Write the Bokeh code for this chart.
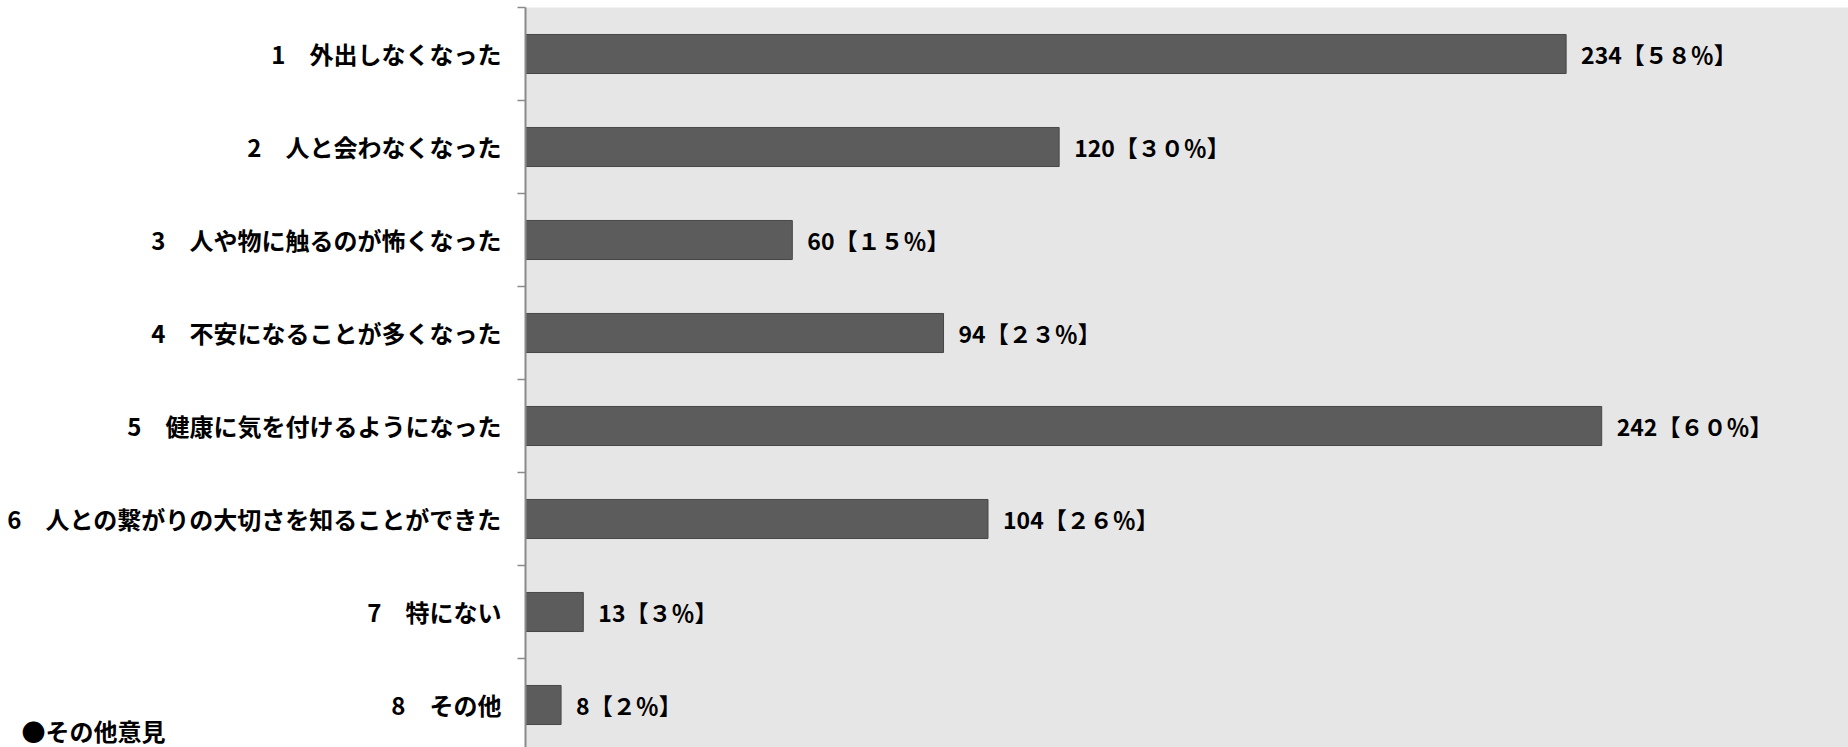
from bokeh.plotting import figure
from bokeh.models import ColumnDataSource, Range1d, FixedTicker
from bokeh.core.properties import value
from bokeh.embed import file_html
from bokeh.resources import INLINE

categories = [
    "1　外出しなくなった",
    "2　人と会わなくなった",
    "3　人や物に触るのが怖くなった",
    "4　不安になることが多くなった",
    "5　健康に気を付けるようになった",
    "6　人との繋がりの大切さを知ることができた",
    "7　特にない",
    "8　その他",
]
counts = [234, 120, 60, 94, 242, 104, 13, 8]
percents = [58, 30, 15, 23, 60, 26, 3, 2]
heading = "●その他意見"

FW = str.maketrans("0123456789", "０１２３４５６７８９")
labels = [f"{c}【{str(p).translate(FW)}％】" for c, p in zip(counts, percents)]
centers = [i + 0.5 for i in range(len(categories))]

src = ColumnDataSource(dict(y=centers, right=counts, lab=labels))

FONT = "Noto Sans CJK JP"
Y_END = 7.957

p = figure(
    width=1848, height=747,
    output_backend="svg", toolbar_location=None,
    x_range=Range1d(0, 297.5), y_range=Range1d(Y_END, 0),
    x_axis_location=None, y_axis_location="left",
    min_border_left=525, min_border_right=0, min_border_top=7, min_border_bottom=0,
)
p.background_fill_color = "#e6e6e6"
p.border_fill_color = "white"
p.outline_line_color = None
p.grid.visible = False

p.hbar(y="y", right="right", left=0, height=0.42, source=src,
       fill_color="#5c5c5c", line_color="#474747", line_width=1)

p.text(x="right", y="y", text="lab", source=src, x_offset=15,
       text_font=value(FONT), text_font_style="bold", text_font_size="23px",
       text_color="black", text_align="left", text_baseline="middle")

# heading sits at the bottom-left edge (cut off by the window in the reference)
heading_tick = Y_END - 0.01
overrides = {c: lab for c, lab in zip(centers, categories)}
overrides[heading_tick] = heading + "\u3000" * 14

ax = p.yaxis[0]
ax.ticker = FixedTicker(ticks=centers + [heading_tick],
                        minor_ticks=list(range(len(categories) + 1)))
ax.major_label_overrides = overrides
ax.major_label_text_font = FONT
ax.major_label_text_font_style = "bold"
ax.major_label_text_font_size = "24px"
ax.major_label_text_color = "black"
ax.major_label_standoff = 16
ax.major_tick_line_color = None
ax.major_tick_out = 0
ax.major_tick_in = 0
ax.minor_tick_out = 8
ax.minor_tick_in = 0
ax.minor_tick_line_color = "#8a8a8a"
ax.minor_tick_line_width = 1.5
ax.axis_line_color = "#8a8a8a"
ax.axis_line_width = 2

open("out.html", "w").write(file_html(p, INLINE))
